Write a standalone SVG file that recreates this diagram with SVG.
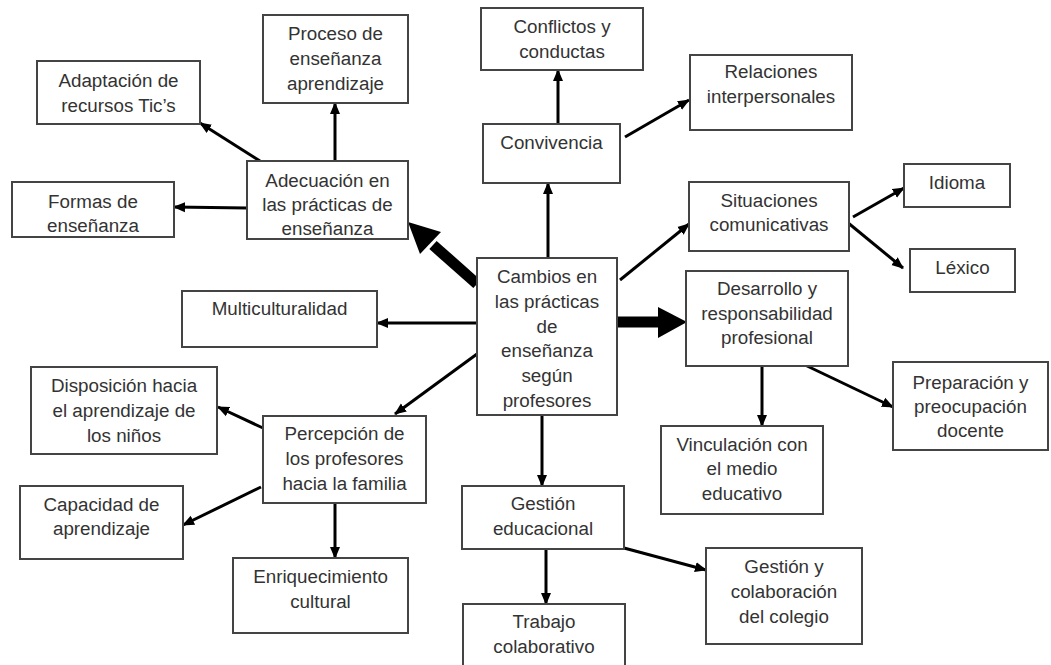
<svg xmlns="http://www.w3.org/2000/svg" width="1051" height="665" viewBox="0 0 1051 665">
<style>
.box{fill:#fff;stroke:#444;stroke-width:2}
.t{font-family:"Liberation Sans",Arial,sans-serif;font-size:18.8px;fill:#333;text-anchor:middle}
.c{stroke:#000;stroke-width:3;fill:none;marker-end:url(#ah)}
.k{stroke:#000;stroke-width:11;fill:none}
</style>
<defs>
<marker id="ah" markerUnits="userSpaceOnUse" markerWidth="12" markerHeight="12" viewBox="0 0 12 12" refX="11" refY="6" orient="auto">
<path d="M0,1 L12,6 L0,11 z" fill="#000"/>
</marker>
</defs>
<rect width="1051" height="665" fill="#fff"/>
<g id="connectors">
<line class="c" x1="335" y1="161" x2="335" y2="103"/>
<line class="c" x1="260" y1="161" x2="200" y2="123"/>
<line class="c" x1="247" y1="208" x2="174" y2="207"/>
<line class="k" x1="477" y1="284" x2="433" y2="245"/>
<polygon points="408,222 441,232 420,254" fill="#000"/>
<line class="c" x1="548" y1="258" x2="548" y2="183"/>
<line class="c" x1="558" y1="124" x2="558" y2="70"/>
<line class="c" x1="625" y1="137" x2="689" y2="100"/>
<line class="c" x1="620" y1="280" x2="689" y2="224"/>
<line class="c" x1="853" y1="217" x2="904" y2="188"/>
<line class="c" x1="847" y1="222" x2="903" y2="268"/>
<line class="k" x1="617" y1="322" x2="660" y2="322"/>
<polygon points="658,307 687,322 658,338" fill="#000"/>
<line class="c" x1="762" y1="366" x2="762" y2="426"/>
<line class="c" x1="805" y1="365" x2="893" y2="407"/>
<line class="c" x1="542" y1="415" x2="542" y2="486"/>
<line class="c" x1="546" y1="549" x2="546" y2="604"/>
<line class="c" x1="624" y1="548" x2="706" y2="570"/>
<line class="c" x1="477" y1="323" x2="377" y2="323"/>
<line class="c" x1="477" y1="354" x2="395" y2="414"/>
<line class="c" x1="263" y1="428" x2="218" y2="407"/>
<line class="c" x1="261" y1="487" x2="183" y2="525"/>
<line class="c" x1="335" y1="503" x2="335" y2="558"/>
</g>
<g id="center">
<rect class="box" x="477" y="258" width="140" height="157"/>
<text class="t" x="547" y="283">Cambios en</text>
<text class="t" x="547" y="308">las prácticas</text>
<text class="t" x="547" y="333">de</text>
<text class="t" x="547" y="357">enseñanza</text>
<text class="t" x="547" y="382">según</text>
<text class="t" x="547" y="407">profesores</text>
</g>
<g id="proceso">
<rect class="box" x="263" y="15" width="145" height="88"/>
<text class="t" x="335.5" y="40">Proceso de</text>
<text class="t" x="335.5" y="65">enseñanza</text>
<text class="t" x="335.5" y="90">aprendizaje</text>
</g>
<g id="adaptacion">
<rect class="box" x="37" y="61" width="163" height="63"/>
<text class="t" x="118.5" y="87">Adaptación de</text>
<text class="t" x="118.5" y="112">recursos Tic’s</text>
</g>
<g id="formas">
<rect class="box" x="12" y="182" width="162" height="55"/>
<text class="t" x="93" y="208">Formas de</text>
<text class="t" x="93" y="232">enseñanza</text>
</g>
<g id="adecuacion">
<rect class="box" x="247" y="161" width="161" height="78"/>
<text class="t" x="327.5" y="187">Adecuación en</text>
<text class="t" x="327.5" y="211">las prácticas de</text>
<text class="t" x="327.5" y="235">enseñanza</text>
</g>
<g id="conflictos">
<rect class="box" x="481" y="8" width="162" height="62"/>
<text class="t" x="562" y="33">Conflictos y</text>
<text class="t" x="562" y="58">conductas</text>
</g>
<g id="relaciones">
<rect class="box" x="690" y="55" width="162" height="75"/>
<text class="t" x="771" y="78">Relaciones</text>
<text class="t" x="771" y="103">interpersonales</text>
</g>
<g id="convivencia">
<rect class="box" x="483" y="124" width="137" height="59"/>
<text class="t" x="551.5" y="149">Convivencia</text>
</g>
<g id="situaciones">
<rect class="box" x="689" y="182" width="160" height="69"/>
<text class="t" x="769" y="207">Situaciones</text>
<text class="t" x="769" y="231">comunicativas</text>
</g>
<g id="idioma">
<rect class="box" x="904" y="164" width="106" height="43"/>
<text class="t" x="957" y="189">Idioma</text>
</g>
<g id="lexico">
<rect class="box" x="910" y="249" width="105" height="43"/>
<text class="t" x="962.5" y="274">Léxico</text>
</g>
<g id="desarrollo">
<rect class="box" x="686" y="271" width="162" height="95"/>
<text class="t" x="767" y="295">Desarrollo y</text>
<text class="t" x="767" y="320">responsabilidad</text>
<text class="t" x="767" y="344">profesional</text>
</g>
<g id="preparacion">
<rect class="box" x="893" y="362" width="155" height="88"/>
<text class="t" x="970.5" y="389">Preparación y</text>
<text class="t" x="970.5" y="413">preocupación</text>
<text class="t" x="970.5" y="437">docente</text>
</g>
<g id="vinculacion">
<rect class="box" x="661" y="426" width="162" height="88"/>
<text class="t" x="742" y="451">Vinculación con</text>
<text class="t" x="742" y="475">el medio</text>
<text class="t" x="742" y="500">educativo</text>
</g>
<g id="gestion">
<rect class="box" x="462" y="486" width="162" height="63"/>
<text class="t" x="543" y="510">Gestión</text>
<text class="t" x="543" y="535">educacional</text>
</g>
<g id="trabajo">
<rect class="box" x="463" y="604" width="162" height="66"/>
<text class="t" x="544" y="628">Trabajo</text>
<text class="t" x="544" y="653">colaborativo</text>
</g>
<g id="gestion-colegio">
<rect class="box" x="706" y="548" width="156" height="96"/>
<text class="t" x="784" y="573">Gestión y</text>
<text class="t" x="784" y="598">colaboración</text>
<text class="t" x="784" y="623">del colegio</text>
</g>
<g id="multiculturalidad">
<rect class="box" x="182" y="291" width="195" height="56"/>
<text class="t" x="279.5" y="315">Multiculturalidad</text>
</g>
<g id="disposicion">
<rect class="box" x="31" y="367" width="186" height="87"/>
<text class="t" x="124" y="392">Disposición hacia</text>
<text class="t" x="124" y="417">el aprendizaje de</text>
<text class="t" x="124" y="442">los niños</text>
</g>
<g id="percepcion">
<rect class="box" x="263" y="416" width="163" height="87"/>
<text class="t" x="344.5" y="440">Percepción de</text>
<text class="t" x="344.5" y="465">los profesores</text>
<text class="t" x="344.5" y="490">hacia la familia</text>
</g>
<g id="capacidad">
<rect class="box" x="20" y="486" width="163" height="73"/>
<text class="t" x="101.5" y="511">Capacidad de</text>
<text class="t" x="101.5" y="535">aprendizaje</text>
</g>
<g id="enriquecimiento">
<rect class="box" x="233" y="558" width="175" height="75"/>
<text class="t" x="320.5" y="583">Enriquecimiento</text>
<text class="t" x="320.5" y="608">cultural</text>
</g>
</svg>
